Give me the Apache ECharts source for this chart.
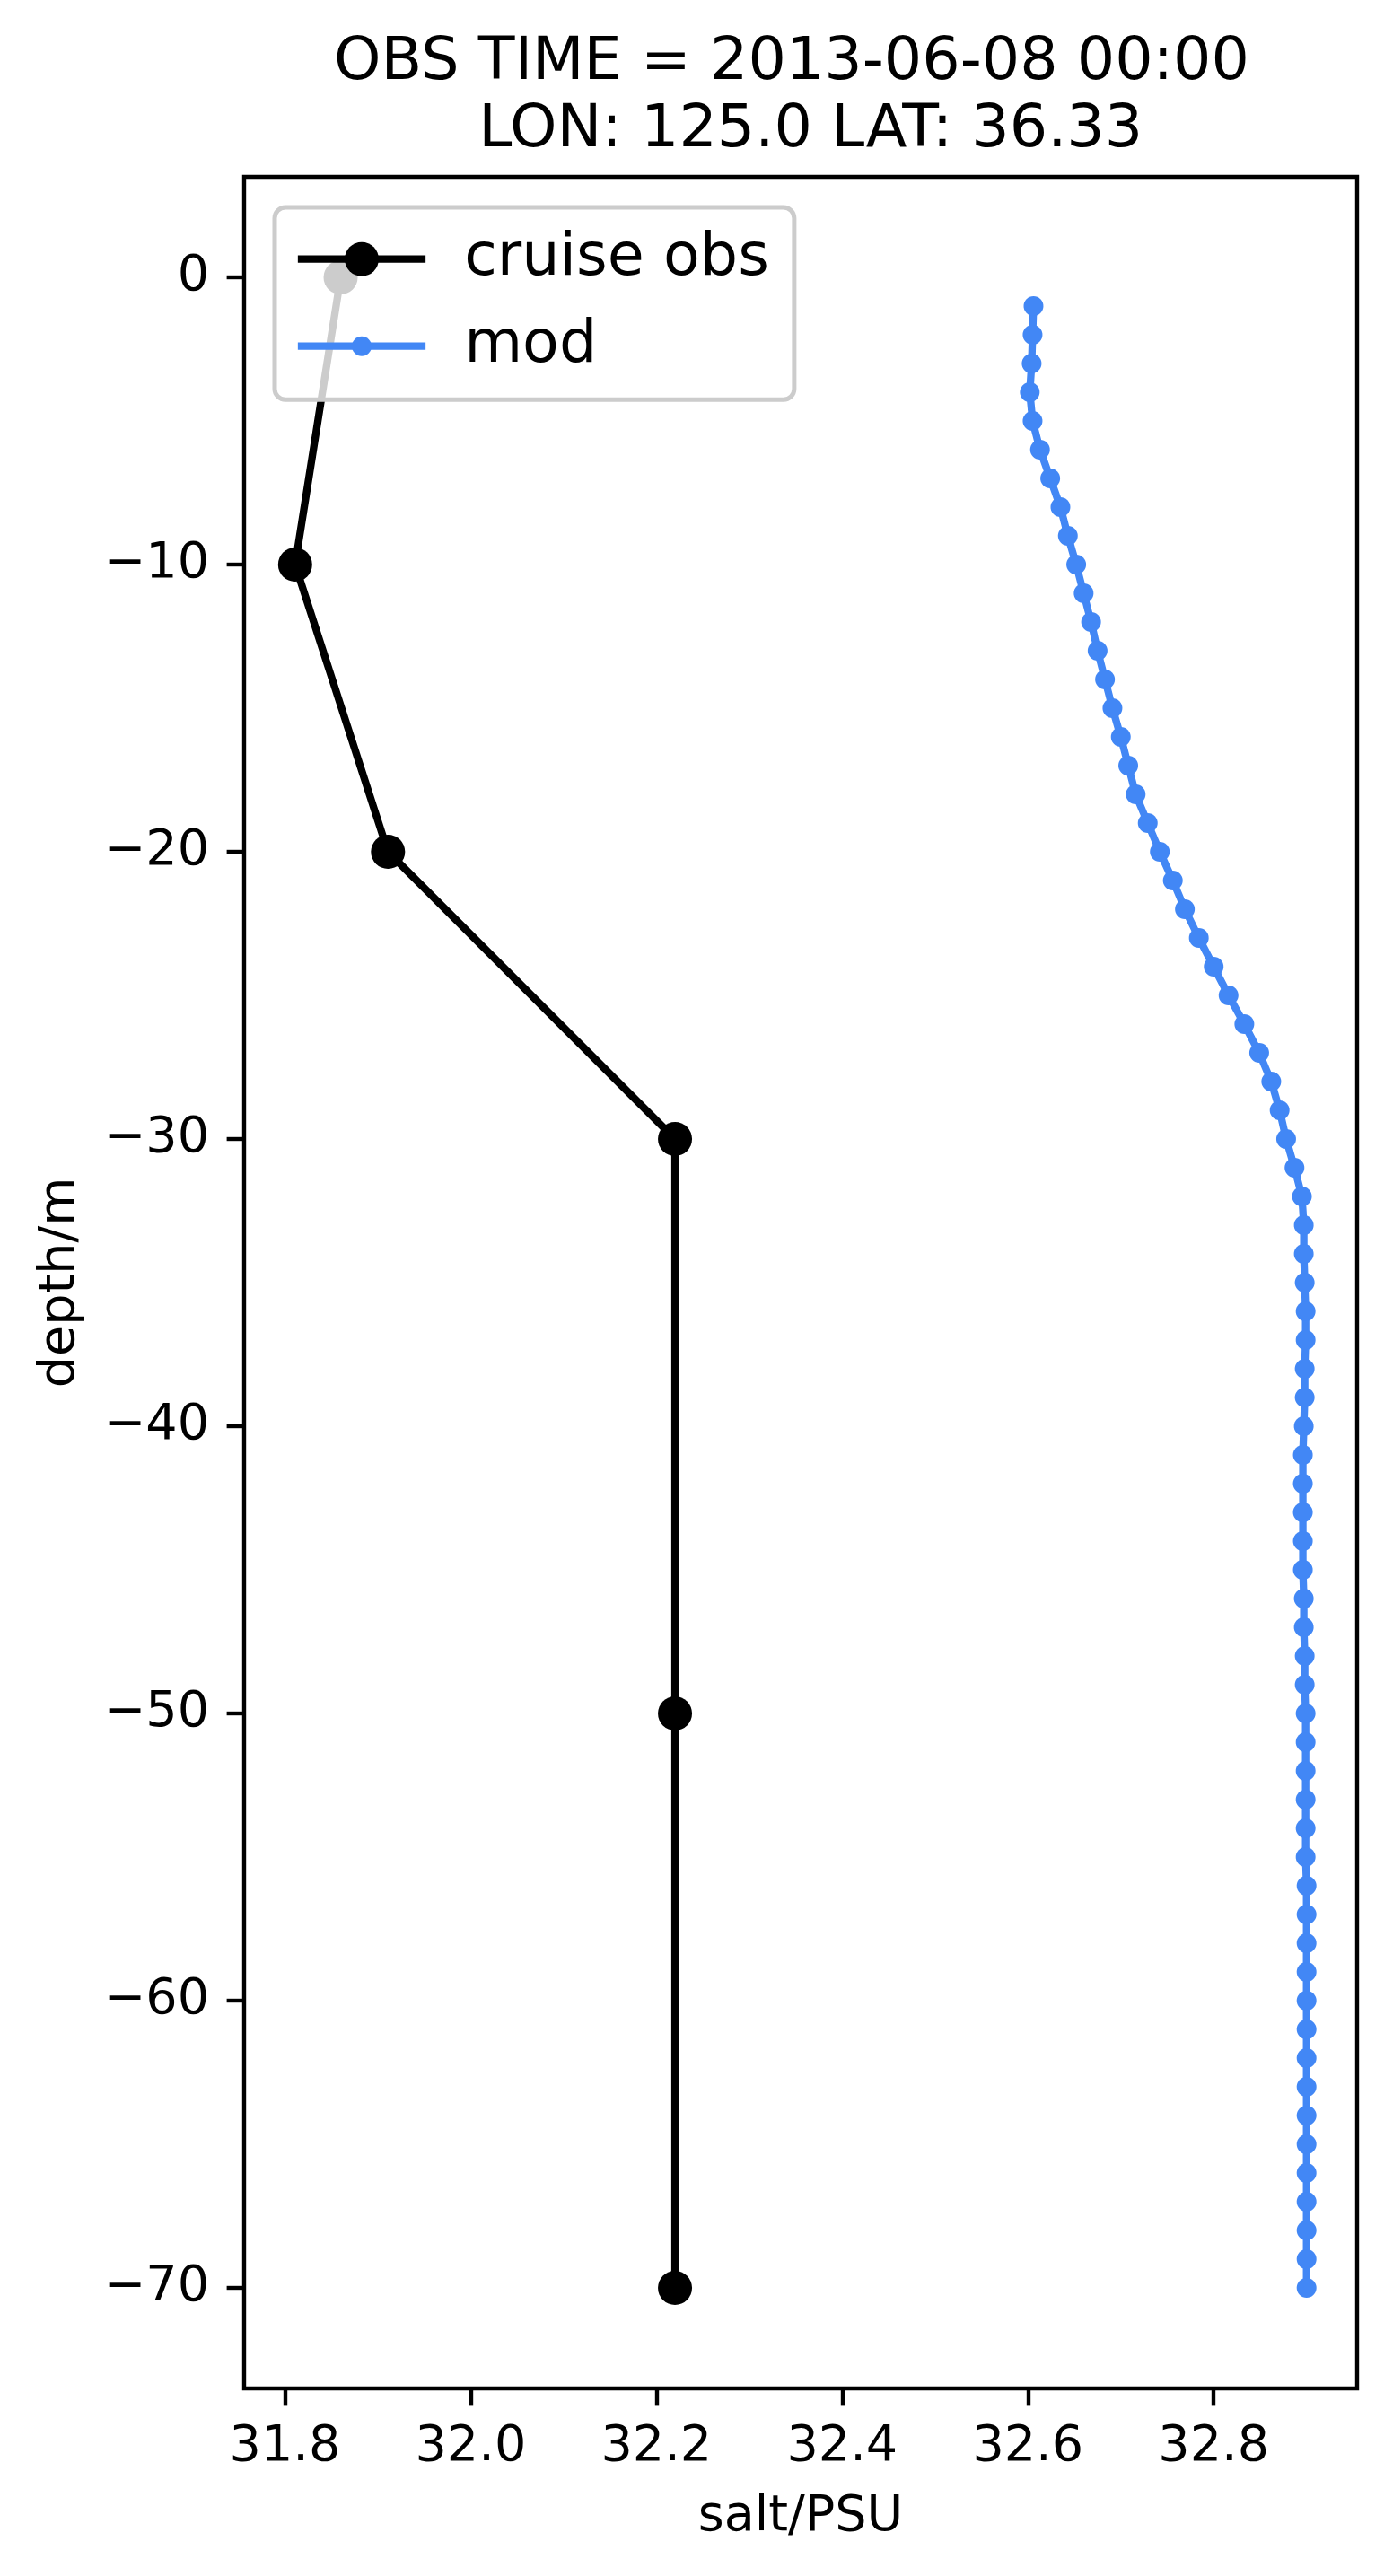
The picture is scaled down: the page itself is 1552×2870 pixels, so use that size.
<!DOCTYPE html>
<html>
<head>
<meta charset="utf-8">
<script src="https://cdn.jsdelivr.net/npm/echarts@6/dist/echarts.min.js"></script>
<style>
  html, body { margin: 0; padding: 0; background: #ffffff; }
  #chart { width: 1552px; height: 2870px; }
</style>
</head>
<body>
<div id="chart"></div>
<script>
// ---- data ----
const titleLines = ['OBS TIME = 2013-06-08 00:00', '  LON: 125.0 LAT: 36.33'];
const xName = 'salt/PSU';
const yName = 'depth/m';
const seriesNames = ['cruise obs', 'mod'];

const obsDepth = [0, -10, -20, -30, -50, -70];
const obsSalt  = [31.860, 31.811, 31.911, 32.220, 32.220, 32.220];

const modDepth = [
  -1, -2, -3, -4, -5, -6, -7, -8, -9, -10,
  -11, -12, -13, -14, -15, -16, -17, -18, -19, -20,
  -21, -22, -23, -24, -25, -26, -27, -28, -29, -30,
  -31, -32, -33, -34, -35, -36, -37, -38, -39, -40,
  -41, -42, -43, -44, -45, -46, -47, -48, -49, -50,
  -51, -52, -53, -54, -55, -56, -57, -58, -59, -60,
  -61, -62, -63, -64, -65, -66, -67, -68, -69, -70
];
const modSalt = [
  32.606, 32.605, 32.604, 32.602, 32.605, 32.613, 32.624, 32.635, 32.643, 32.652,
  32.660, 32.668, 32.675, 32.683, 32.691, 32.700, 32.708, 32.716, 32.729, 32.742,
  32.756, 32.769, 32.784, 32.800, 32.816, 32.833, 32.849, 32.862, 32.871, 32.878,
  32.887, 32.895, 32.897, 32.897, 32.898, 32.899, 32.899, 32.898, 32.898, 32.897,
  32.896, 32.896, 32.896, 32.896, 32.896, 32.897, 32.897, 32.898, 32.898, 32.899,
  32.899, 32.899, 32.899, 32.899, 32.899, 32.900, 32.900, 32.900, 32.900, 32.900,
  32.900, 32.900, 32.900, 32.900, 32.900, 32.900, 32.900, 32.900, 32.900, 32.900
];

const xTicks = [31.8, 32.0, 32.2, 32.4, 32.6, 32.8];
const yTicks = [-70, -60, -50, -40, -30, -20, -10, 0];
const xRange = [31.7561, 32.9544];
const yRange = [-73.5, 3.5];

// ---- chart ----
const FONT = 'DejaVu Sans';
const TICK_FS = 55.6;
const LEG_FS = 66.7;
const obsColor = '#000000';
const modColor = '#4287f5';

const chart = echarts.init(document.getElementById('chart'), null, { renderer: 'canvas' });

const option = {
  animation: false,
  backgroundColor: '#ffffff',
  title: {
    text: titleLines.join('\n'),
    left: 882,
    top: 33,
    padding: 0,
    textAlign: 'center',
    textStyle: {
      fontFamily: FONT, fontSize: 66.7, fontWeight: 'normal', color: '#000', lineHeight: 75
    }
  },
  grid: {
    left: 272, right: 40, top: 197, bottom: 209,
    show: true, borderColor: '#000', borderWidth: 4.4, backgroundColor: 'transparent',
    containLabel: false
  },
  legend: [
    {
      data: [seriesNames[0]],
      orient: 'vertical',
      left: 306, top: 231,
      padding: [24.2, 28, 123, 21.7],
      itemWidth: 142.3, itemHeight: 47.5,
      selectedMode: false,
      backgroundColor: 'rgba(255,255,255,0.8)',
      borderColor: '#cccccc', borderWidth: 5, borderRadius: 12,
      lineStyle: { width: 8.3 },
      textStyle: { fontFamily: FONT, fontSize: LEG_FS, color: '#000', padding: [0, 0, 0, 38] }
    },
    {
      data: [seriesNames[1]],
      orient: 'vertical',
      left: 327.7, top: 352.2,
      padding: 0,
      itemWidth: 142.3, itemHeight: 27.5,
      selectedMode: false,
      lineStyle: { width: 8.3 },
      textStyle: { fontFamily: FONT, fontSize: LEG_FS, color: '#000', padding: [0, 0, 0, 38] }
    }
  ],
  xAxis: {
    type: 'value',
    min: xRange[0], max: xRange[1],
    name: xName, nameLocation: 'middle', nameGap: 116,
    nameTextStyle: { fontFamily: FONT, fontSize: TICK_FS, color: '#000', lineHeight: 55.6 },
    axisLine: { show: false, onZero: false },
    axisTick: { show: true, inside: false, length: 19.4, lineStyle: { color: '#000', width: 4.4 }, customValues: xTicks },
    axisLabel: {
      show: true, margin: 38, customValues: xTicks,
      fontFamily: FONT, fontSize: TICK_FS, color: '#000', lineHeight: 55.6,
      formatter: v => Number(v).toFixed(1)
    },
    splitLine: { show: false }
  },
  yAxis: {
    type: 'value',
    min: yRange[0], max: yRange[1],
    name: yName, nameLocation: 'middle', nameGap: 177,
    nameTextStyle: { fontFamily: FONT, fontSize: TICK_FS, color: '#000', lineHeight: 55.6 },
    axisLine: { show: false, onZero: false },
    axisTick: { show: true, inside: false, length: 19.4, lineStyle: { color: '#000', width: 4.4 }, customValues: yTicks },
    axisLabel: {
      show: true, margin: 39, customValues: yTicks,
      fontFamily: FONT, fontSize: TICK_FS, color: '#000', lineHeight: 55.6,
      padding: [14, 0, 0, 0],
      formatter: v => String(Math.round(v)).replace('-', '\u2212')
    },
    splitLine: { show: false }
  },
  series: [
    {
      name: seriesNames[0],
      type: 'line',
      data: obsSalt.map((s, i) => [s, obsDepth[i]]),
      symbol: 'circle', symbolSize: 38,
      lineStyle: { color: obsColor, width: 8.3 },
      itemStyle: { color: obsColor, borderWidth: 0 },
      emphasis: { disabled: true }
    },
    {
      name: seriesNames[1],
      type: 'line',
      data: modSalt.map((s, i) => [s, modDepth[i]]),
      symbol: 'circle', symbolSize: 22,
      lineStyle: { color: modColor, width: 8.3 },
      itemStyle: { color: modColor, borderWidth: 0 },
      emphasis: { disabled: true }
    }
  ]
};

chart.setOption(option);
</script>
</body>
</html>
